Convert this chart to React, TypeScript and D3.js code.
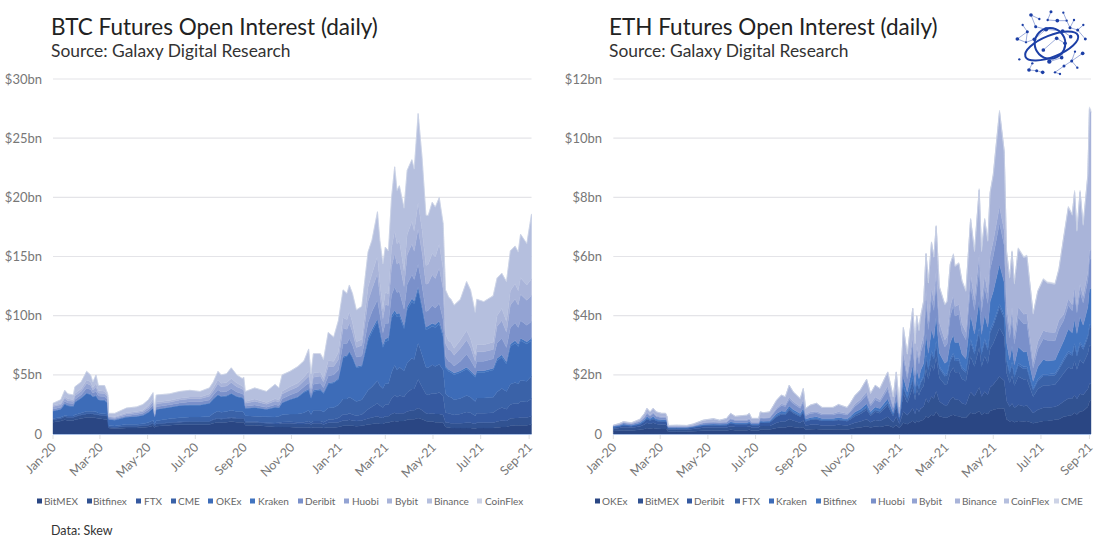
import React from "react";
import * as d3 from "d3";

const FONT = "Lato, 'Open Sans', sans-serif";
const palette = ["#2a4683", "#315291", "#3559a0", "#3a62a8", "#3d6cb8", "#4174c0", "#7a90ca", "#93a3d3", "#a9b4d9", "#b5bfde", "#cdd3e6"];
const monthTicks = ["2020-01", "2020-03", "2020-05", "2020-07", "2020-09", "2020-11", "2021-01", "2021-03", "2021-05", "2021-07", "2021-09"];

// BTC: days since 1 Jan 2020, read totals and per-exchange open interest ($bn)
const btcDays = [0,10,15,19,26,28,36,43,48,51,55,58,66,70,71,79,94,107,115,122,128,130,132,149,162,175,188,200,205,211,215,222,228,235,242,244,246,258,273,284,289,293,303,313,321,327,330,333,342,346,352,359,365,371,376,379,383,388,395,403,408,415,418,422,425,429,433,437,440,443,449,453,459,462,467,472,477,480,485,489,494,499,502,506,509,513,521,529,534,540,542,551,563,568,574,580,585,591,595,598,606,612];
const btcTotal = [2.6,2.9,3.7,3.4,3.3,4.0,4.4,5.3,5.0,4.4,5.0,4.1,4.1,3.4,1.75,1.75,2.2,2.3,2.5,2.9,3.5,2.0,3.3,3.4,3.6,3.7,3.6,3.9,4.4,5.3,5.0,5.1,5.6,5.0,4.7,4.8,3.6,3.9,3.6,4.2,3.9,5.0,5.3,5.7,6.2,7.2,5.1,6.8,6.8,6.3,8.6,8.2,9.6,12.2,11.9,12.6,11.9,10.5,10.8,15.4,16.4,18.8,16.4,14.4,15.8,15.5,20.0,22.6,20.6,21.0,19.1,22.3,23.2,22.4,27.1,23.4,18.5,18.5,19.6,19.2,20.0,17.8,12.2,11.6,11.4,10.9,11.4,12.9,12.2,10.3,11.4,11.2,11.7,13.2,13.6,12.9,15.5,15.9,15.4,16.9,16.1,18.6];
const btcBitMEX = [1.0,1.1,1.2,1.15,1.15,1.2,1.3,1.4,1.4,1.4,1.35,1.3,1.25,1.2,.5,.45,.5,.5,.55,.6,.7,.55,.65,.75,.8,.8,.8,.8,.9,1.0,.95,1.0,1.05,1.0,1.0,1.0,.75,.75,.65,.6,.6,.6,.6,.55,.55,.55,.5,.55,.55,.5,.55,.55,.6,.7,.7,.7,.7,.65,.7,.8,.85,.9,.85,.85,.95,.95,1.05,1.1,1.05,1.1,1.1,1.2,1.25,1.25,1.35,1.25,1.1,1.05,1.05,1.0,1.0,.95,.6,.55,.5,.5,.5,.5,.5,.45,.5,.5,.5,.55,.6,.6,.7,.75,.75,.75,.75,.8];
const btcBitfinex = [.2,.2,.25,.25,.25,.25,.3,.3,.3,.3,.3,.3,.3,.3,.1,.1,.15,.15,.15,.15,.2,.15,.2,.2,.2,.25,.25,.25,.3,.3,.3,.3,.3,.3,.3,.3,.25,.25,.25,.25,.25,.3,.3,.3,.3,.35,.3,.35,.35,.3,.4,.4,.4,.45,.45,.5,.45,.45,.45,.5,.55,.6,.55,.5,.55,.55,.65,.7,.65,.65,.65,.7,.75,.75,.85,.75,.65,.65,.7,.7,.7,.65,.4,.4,.4,.4,.4,.45,.45,.4,.45,.45,.45,.5,.55,.5,.6,.6,.6,.65,.65,.7];
const btcFTX = [.02,.02,.02,.02,.02,.02,.02,.02,.02,.02,.02,.02,.02,.02,.02,.02,.02,.02,.02,.02,.02,.02,.02,.03,.03,.03,.03,.03,.04,.04,.04,.05,.05,.05,.05,.05,.05,.06,.06,.08,.1,.12,.14,.15,.15,.2,.15,.2,.2,.2,.25,.3,.35,.5,.5,.55,.5,.45,.5,.8,.9,1.1,1.0,.9,1.0,1.0,1.3,1.5,1.4,1.5,1.4,1.6,1.8,1.8,2.4,2.0,1.6,1.6,1.7,1.7,1.8,1.6,.8,.8,.8,.7,.8,.9,.85,.7,.8,.8,.85,1.0,1.1,1.0,1.2,1.25,1.2,1.35,1.3,1.5];
const btcCME = [.1,.1,.1,.1,.1,.15,.15,.2,.2,.2,.2,.15,.15,.15,.1,.1,.15,.15,.15,.2,.25,.15,.25,.3,.35,.35,.35,.4,.5,.6,.55,.55,.6,.55,.55,.45,.5,.45,.5,.5,.55,.6,.65,.7,.8,.9,.7,.9,.9,.85,1.0,1.0,1.1,1.3,1.3,1.35,1.3,1.2,1.25,1.6,1.7,1.9,1.7,1.6,1.75,1.75,2.2,2.5,2.3,2.4,2.2,2.5,2.6,2.5,3.1,2.7,2.3,2.3,2.4,2.3,2.4,2.2,1.6,1.4,1.4,1.3,1.3,1.4,1.3,1.2,1.3,1.3,1.3,1.5,1.6,1.5,1.7,1.75,1.7,1.8,1.75,1.9];
const btcOKEx = [.6,.65,.95,.85,.8,1.05,1.25,1.5,1.4,1.2,1.35,1.1,1.1,.95,.5,.5,.6,.65,.7,.85,1.0,.55,.95,.95,1.0,1.0,1.0,1.1,1.2,1.35,1.3,1.3,1.4,1.25,1.15,1.15,.6,.7,.6,.8,.7,1.0,1.2,1.4,1.7,1.7,1.35,1.6,1.7,1.55,2.0,2.05,2.15,3.5,3.6,3.8,3.5,2.85,2.8,4.2,4.6,5.0,4.5,3.45,3.55,3.65,4.6,4.4,4.5,4.35,3.55,4.5,4.8,4.7,4.5,3.9,3.15,3.3,3.25,3.3,3.4,2.8,2.2,2.15,2.1,2.1,2.2,2.25,2.1,2.05,2.15,2.15,2.3,2.65,2.65,2.3,3.2,3.35,3.15,3.35,3.15,3.0];
const btcKraken = [.05,.05,.05,.05,.05,.05,.05,.05,.05,.05,.05,.05,.05,.05,.03,.03,.03,.03,.03,.03,.03,.03,.03,.05,.05,.05,.05,.05,.05,.05,.05,.05,.05,.05,.05,.05,.05,.05,.05,.05,.05,.05,.05,.05,.1,.1,.1,.1,.1,.1,.1,.1,.1,.1,.1,.1,.1,.1,.1,.25,.25,.25,.25,.25,.25,.25,.25,.25,.25,.25,.25,.25,.25,.25,.25,.25,.25,.25,.25,.25,.25,.25,.15,.15,.15,.15,.15,.15,.15,.15,.15,.15,.15,.2,.2,.2,.2,.2,.2,.2,.2,.2];
const btcDeribit = [.15,.15,.2,.2,.2,.2,.25,.4,.4,.3,.35,.3,.3,.25,.1,.1,.1,.15,.15,.2,.25,.1,.2,.2,.2,.25,.25,.25,.3,.4,.35,.35,.4,.35,.3,.3,.15,.2,.15,.2,.15,.3,.35,.4,.4,.5,.3,.5,.5,.4,.6,.6,.7,1.1,1.0,1.1,1.0,.8,.8,1.3,1.5,1.6,1.3,1.0,1.3,1.2,1.7,2.0,1.8,1.8,1.4,1.9,2.0,1.8,1.9,1.7,1.3,1.3,1.5,1.4,1.5,1.2,.8,.7,.7,.6,.8,1.1,.9,.6,.8,.8,.8,1.3,1.4,1.2,1.4,1.5,1.4,1.5,1.4,1.4];
const btcHuobi = [.2,.2,.25,.2,.2,.3,.3,.4,.35,.25,.35,.25,.25,.2,.1,.1,.15,.15,.15,.2,.3,.1,.25,.2,.25,.25,.25,.3,.35,.5,.45,.45,.5,.45,.4,.4,.25,.3,.25,.3,.3,.4,.4,.45,.5,.6,.35,.6,.6,.5,.8,.7,.9,1.3,1.2,1.3,1.1,.8,.9,1.8,1.9,2.2,1.6,1.2,1.6,1.5,2.4,2.8,2.4,2.5,1.9,2.5,2.6,2.4,3.0,2.8,2.3,2.3,2.6,2.5,3.0,2.6,1.1,1.0,1.0,.9,1.1,1.2,1.1,.6,.8,.8,.8,1.4,1.5,1.3,1.9,2.0,1.9,2.2,2.1,2.2];
const btcBybit = [.1,.1,.15,.15,.15,.2,.2,.3,.3,.2,.3,.2,.2,.15,.05,.05,.1,.1,.1,.15,.2,.05,.15,.15,.15,.15,.15,.2,.25,.35,.3,.3,.35,.3,.25,.25,.15,.2,.15,.2,.2,.25,.3,.3,.3,.4,.2,.35,.35,.3,.5,.45,.6,.9,.8,.9,.8,.5,.5,1.2,1.3,1.5,1.1,.8,1.0,1.0,1.6,1.9,1.7,1.8,1.3,1.7,1.9,1.7,2.2,1.9,1.6,1.6,1.8,1.8,2.0,1.7,.8,.7,.7,.6,.7,.8,.7,.5,.6,.6,.6,.9,1.0,.9,1.2,1.3,1.2,1.4,1.3,1.4];
const btcCoinFlex = [.01,.01,.01,.01,.01,.01,.01,.01,.01,.01,.01,.01,.01,.01,.01,.01,.01,.01,.01,.01,.01,.01,.01,.01,.01,.01,.01,.01,.01,.01,.01,.01,.01,.01,.01,.01,.01,.01,.01,.01,.01,.01,.01,.01,.03,.03,.03,.03,.03,.03,.03,.03,.03,.03,.03,.03,.03,.03,.03,.03,.03,.03,.03,.03,.03,.03,.03,.03,.03,.03,.03,.03,.03,.03,.03,.03,.03,.03,.03,.03,.03,.03,.03,.03,.03,.03,.03,.03,.03,.03,.03,.03,.03,.03,.03,.03,.03,.03,.03,.03,.03,.03];

// ETH: same layout
const ethDays = [0,8,13,23,34,40,43,47,51,55,62,67,69,70,81,94,102,115,128,136,145,150,156,171,174,177,186,188,192,200,209,215,220,225,230,239,243,246,252,260,267,281,288,299,303,309,316,324,329,335,341,351,358,362,366,371,376,383,386,388,391,393,397,400,403,407,410,413,417,424,427,431,435,437,442,446,451,457,462,468,471,475,479,482,486,494,500,503,507,510,513,518,525,529,537,543,550,555,565,570,576,582,587,590,593,597,601,607,609,611];
const ethTotal = [.30,.36,.42,.38,.5,.7,.87,.75,.87,.75,.7,.7,.58,.29,.3,.29,.34,.47,.52,.47,.53,.7,.6,.64,.7,.53,.53,.75,.72,.75,1.15,1.32,1.26,1.65,1.43,1.2,1.54,.87,.98,1.04,.9,.9,1.0,.9,1.04,1.3,1.49,1.85,1.37,1.65,1.54,2.1,1.26,2.1,.92,3.6,2.7,4.25,3.06,4.0,3.5,3.96,4.5,6.1,5.1,6.5,6.0,7.06,5.0,4.4,4.5,5.77,6.1,5.7,5.8,5.2,4.86,7.3,6.2,8.3,6.2,7.3,6.55,8.2,8.8,10.95,9.6,6.2,5.3,6.2,5.1,6.3,6.0,6.05,4.08,4.86,5.26,5.15,5.1,5.6,6.67,7.7,7.45,8.24,6.9,8.24,7.1,8.8,11.06,10.95];
const ethOKEx = [.1,.11,.13,.12,.14,.17,.2,.18,.2,.18,.17,.17,.15,.08,.08,.08,.09,.11,.12,.12,.12,.14,.13,.13,.14,.12,.12,.15,.15,.15,.2,.22,.22,.26,.24,.2,.24,.14,.16,.17,.15,.15,.16,.15,.17,.2,.22,.26,.22,.25,.24,.3,.22,.3,.2,.38,.33,.45,.36,.45,.4,.45,.48,.6,.55,.65,.62,.75,.6,.55,.55,.62,.65,.62,.6,.56,.55,.72,.68,.78,.65,.72,.68,.78,.82,.87,.85,.5,.42,.45,.4,.44,.42,.44,.36,.4,.44,.44,.48,.5,.58,.62,.64,.72,.66,.76,.78,.92,1.1,1.15];
const ethBitMEX = [.08,.09,.1,.09,.11,.15,.18,.16,.18,.16,.14,.14,.12,.07,.07,.07,.08,.1,.1,.1,.1,.12,.11,.11,.12,.1,.1,.12,.12,.12,.18,.2,.2,.25,.22,.18,.22,.14,.15,.15,.14,.14,.15,.14,.15,.18,.2,.24,.18,.22,.2,.28,.18,.28,.14,.38,.3,.42,.32,.42,.35,.4,.45,.6,.5,.62,.58,.7,.5,.42,.42,.55,.6,.55,.55,.48,.45,.7,.6,.8,.62,.72,.65,.8,.85,1.07,.95,.62,.5,.58,.48,.55,.52,.52,.35,.42,.45,.45,.44,.48,.52,.58,.56,.6,.52,.6,.55,.6,.6,.55];
const ethDeribit = [.04,.05,.06,.05,.07,.1,.13,.11,.13,.1,.1,.1,.08,.04,.04,.04,.05,.07,.08,.07,.08,.1,.09,.09,.1,.08,.08,.12,.11,.12,.2,.24,.22,.3,.25,.2,.28,.14,.16,.17,.15,.15,.16,.14,.17,.22,.26,.32,.22,.28,.26,.38,.2,.36,.14,.6,.42,.7,.46,.64,.55,.62,.7,1.0,.8,1.05,.95,1.15,.8,.7,.72,.92,1.0,.92,.95,.82,.78,1.2,1.0,1.35,1.0,1.2,1.05,1.3,1.4,1.65,1.5,.95,.8,.95,.75,.95,.9,.9,.55,.7,.75,.75,.75,.85,.95,1.05,1.0,1.15,1.0,1.15,1.05,1.2,1.3,1.3];
const ethFTX = [.01,.01,.01,.01,.01,.02,.02,.02,.02,.02,.02,.02,.01,.01,.01,.01,.01,.01,.01,.01,.01,.01,.01,.01,.01,.01,.01,.01,.01,.01,.03,.03,.03,.04,.03,.03,.03,.02,.02,.02,.02,.02,.02,.02,.03,.05,.06,.07,.05,.06,.06,.08,.05,.08,.04,.22,.15,.28,.2,.26,.22,.25,.28,.4,.32,.42,.38,.46,.32,.28,.3,.38,.42,.38,.38,.33,.3,.5,.42,.55,.42,.5,.45,.55,.6,.7,.62,.4,.32,.38,.3,.38,.36,.36,.22,.28,.32,.32,.32,.36,.42,.48,.45,.52,.45,.52,.48,.55,.6,.62];
const ethKraken = [.01,.01,.01,.01,.01,.01,.01,.01,.01,.01,.01,.01,.01,.01,.01,.01,.01,.01,.01,.01,.01,.01,.01,.01,.01,.01,.01,.01,.01,.01,.02,.02,.02,.02,.02,.02,.02,.02,.02,.02,.02,.02,.02,.02,.02,.02,.02,.03,.02,.02,.02,.03,.02,.03,.01,.05,.04,.06,.04,.05,.05,.05,.06,.08,.06,.08,.08,.09,.07,.06,.06,.07,.08,.07,.07,.06,.06,.09,.08,.1,.08,.09,.08,.1,.1,.1,.1,.07,.06,.07,.06,.07,.07,.07,.05,.05,.06,.06,.06,.06,.07,.07,.07,.08,.07,.08,.07,.08,.1,.1];
const ethBitfinex = [.02,.02,.03,.02,.03,.04,.05,.04,.05,.04,.04,.04,.03,.01,.01,.01,.01,.02,.02,.02,.02,.03,.03,.03,.03,.02,.02,.03,.03,.03,.06,.07,.07,.08,.07,.06,.08,.04,.05,.05,.04,.04,.05,.04,.05,.07,.08,.1,.06,.08,.08,.12,.05,.12,.04,.3,.18,.42,.22,.4,.3,.38,.42,.72,.5,.72,.62,.85,.45,.38,.4,.55,.6,.55,.55,.45,.4,.8,.6,.95,.6,.8,.7,.95,1.05,1.35,1.1,.55,.4,.55,.35,.55,.5,.5,.25,.42,.5,.45,.45,.55,.6,.75,.7,.8,.7,.85,.75,.95,1.2,1.2];
const ethHuobi = [.02,.03,.04,.04,.05,.07,.1,.08,.1,.08,.07,.07,.05,.02,.02,.02,.02,.05,.06,.05,.06,.1,.08,.08,.09,.05,.05,.1,.1,.1,.15,.18,.17,.22,.2,.18,.22,.12,.13,.14,.12,.12,.14,.13,.15,.2,.24,.3,.2,.25,.22,.32,.15,.3,.1,.65,.45,.7,.4,.6,.5,.6,.7,1.1,.8,1.05,.95,1.15,.75,.55,.6,.9,1.0,.9,.95,.75,.65,1.0,.8,1.1,.75,.95,.8,1.1,1.2,1.4,1.25,.95,.75,.95,.7,1.0,.95,.95,.45,.6,.7,.7,.65,.75,.7,.8,.75,.85,.7,.85,.75,.9,1.0,1.0];
const ethBybit = [.01,.01,.01,.01,.02,.03,.04,.03,.04,.03,.03,.03,.02,.01,.01,.01,.01,.01,.01,.01,.01,.02,.02,.02,.02,.01,.01,.02,.02,.02,.05,.06,.06,.08,.07,.06,.08,.04,.05,.05,.05,.05,.05,.05,.05,.07,.09,.11,.07,.09,.08,.12,.06,.12,.04,.2,.15,.25,.15,.2,.18,.2,.25,.35,.28,.35,.32,.4,.28,.24,.25,.32,.35,.32,.33,.28,.25,.4,.35,.45,.35,.4,.35,.45,.5,.55,.5,.35,.28,.35,.28,.35,.33,.33,.2,.25,.28,.28,.28,.3,.2,.22,.2,.25,.2,.25,.22,.28,.3,.3];
const ethCoinFlex = [.01,.01,.01,.01,.01,.01,.01,.01,.01,.01,.01,.01,.01,.01,.01,.01,.01,.01,.01,.01,.01,.01,.01,.01,.01,.01,.01,.01,.01,.01,.01,.01,.01,.01,.01,.01,.01,.01,.01,.01,.01,.01,.01,.01,.01,.01,.01,.01,.01,.01,.01,.01,.01,.01,.01,.01,.01,.01,.01,.01,.01,.01,.01,.01,.01,.02,.02,.02,.02,.02,.02,.02,.02,.02,.02,.02,.02,.02,.02,.02,.02,.02,.02,.02,.02,.02,.02,.02,.02,.02,.02,.02,.02,.02,.02,.02,.02,.02,.02,.02,.02,.02,.02,.02,.02,.02,.02,.02,.02,.02];
const ethCME = [0,0,0,0,0,0,0,0,0,0,0,0,0,0,0,0,0,0,0,0,0,0,0,0,0,0,0,0,0,0,0,0,0,0,0,0,0,0,0,0,0,0,0,0,0,0,0,0,0,0,0,0,0,0,0,0,0,0,0,0,0,0,0,0,0,.02,.02,.03,.02,.02,.02,.03,.03,.03,.03,.03,.03,.04,.03,.04,.03,.04,.03,.04,.04,.05,.05,.03,.03,.03,.03,.03,.03,.03,.02,.03,.03,.03,.03,.03,.04,.04,.04,.05,.04,.05,.04,.05,.06,.06];

const btcLegend: [string, number, number][] = [["BitMEX", 37, 44], ["Bitfinex", 87, 93], ["FTX", 136, 144], ["CME", 171, 178], ["OKEx", 208, 216], ["Kraken", 250, 258], ["Deribit", 298, 305], ["Huobi", 344, 352], ["Bybit", 387, 395], ["Binance", 427, 434], ["CoinFlex", 477, 485]];
const ethLegend: [string, number, number][] = [["OKEx", 595, 602], ["BitMEX", 638, 645], ["Deribit", 687, 694], ["FTX", 735, 742], ["Kraken", 769, 776], ["Bitfinex", 816, 823], ["Huobi", 871, 878], ["Bybit", 912, 919], ["Binance", 955, 962], ["CoinFlex", 1004, 1011], ["CME", 1054, 1061]];

// Binance is what is left between the read stack top and the other exchanges
const residual = (total: number[], parts: number[][]) =>
  total.map((t, i) => Math.max(0, t - d3.sum(parts, (p) => p[i])));

const btcBelow = [btcBitMEX, btcBitfinex, btcFTX, btcCME, btcOKEx, btcKraken, btcDeribit, btcHuobi, btcBybit];
const btcBinance = residual(btcTotal, [...btcBelow, btcCoinFlex]);
const btcSeries = [...btcBelow, btcBinance, btcCoinFlex];

const ethBelow = [ethOKEx, ethBitMEX, ethDeribit, ethFTX, ethKraken, ethBitfinex, ethHuobi, ethBybit];
const ethBinance = residual(ethTotal, [...ethBelow, ethCoinFlex, ethCME]);
const ethSeries = [...ethBelow, ethBinance, ethCoinFlex, ethCME];

const origin = new Date(2020, 0, 1);
const dayToDate = (d: number) => d3.timeDay.offset(origin, d);

function Panel(props: {
  title: string; titleX: number; x0: number; x1: number; labelX: number;
  days: number[]; series: number[][]; yMax: number; yStep: number; legend: [string, number, number][];
}) {
  const { title, titleX, x0, x1, labelX, days, series, yMax, yStep, legend } = props;
  const x = d3.scaleTime().domain([origin, dayToDate(days[days.length - 1])]).range([x0, x1]);
  const y = d3.scaleLinear().domain([0, yMax]).range([434, 79]);
  const rows = days.map((_, i) => series.map((s) => s[i]));
  const stack = d3.stack<number[], number>().keys(d3.range(series.length)).value((r, k) => r[k]);
  const area = d3.area<d3.SeriesPoint<number[]>>()
    .x((_, i) => x(dayToDate(days[i])))
    .y0((p) => y(p[0]))
    .y1((p) => y(p[1]));
  const layers = stack(rows);
  const yTicks = d3.range(0, yMax + yStep / 2, yStep);
  const fmt = d3.timeFormat("%b-%y");
  return (
    <g fontFamily={FONT}>
      <text x={titleX} y={35} fontSize={22.5} fill="#222">{title}</text>
      <text x={titleX} y={57} fontSize={17.4} fill="#333">Source: Galaxy Digital Research</text>
      {yTicks.map((t) => (
        <g key={t}>
          {t > 0 && <line x1={x0} x2={x1} y1={y(t)} y2={y(t)} stroke="#e4e4e8" strokeWidth={1.2} />}
          <text x={labelX} y={y(t) + 4.5} textAnchor="end" fontSize={13} fill="#777">{t === 0 ? "0" : `$${t}bn`}</text>
        </g>
      ))}
      {layers.map((l, i) => (
        <path key={i} d={area(l) || ""} fill={palette[i]} stroke={palette[i]} strokeWidth={0.4} />
      ))}
      <line x1={x0} x2={x1} y1={434.5} y2={434.5} stroke="#a9c0e6" strokeWidth={1} />
      {monthTicks.map((m) => {
        const dt = d3.timeParse("%Y-%m")(m) as Date;
        const px = x(dt);
        return (
          <g key={m}>
            <line x1={px} x2={px} y1={435} y2={439} stroke="#e0e0e0" />
            <text transform={`translate(${px + 4},${448}) rotate(-45)`} textAnchor="end" fontSize={12.5} fill="#777">{fmt(dt)}</text>
          </g>
        );
      })}
      {legend.map(([name, sx, tx], i) => (
        <g key={name}>
          <rect x={sx} y={498.5} width={5} height={5} fill={palette[i]} />
          <text x={tx} y={505} fontSize={10} fill="#666">{name}</text>
        </g>
      ))}
    </g>
  );
}

const logoNodes: [number, number, number][] = [[93,45,4],[118,57,2],[107,80,3],[153,35,3],[143,60,2],[172,62,4],[190,38,2],[200,62,2],[222,60,2],[210,83,3],[250,75,2],[233,90,3],[256,117,3],[68,75,2],[82,95,3],[52,117,4],[78,127,2],[103,118,4],[138,88,5],[188,93,4],[212,110,4],[225,155,2],[248,160,4],[215,183,3],[232,203,2],[192,198,3],[165,217,2],[180,222,2],[128,217,4],[110,212,3],[87,210,4],[97,190,2],[58,178,2],[148,185,5],[185,173,4],[195,130,4],[170,115,4],[130,150,4]];
const logoLinks: [number, number][] = [[0,1],[0,2],[3,4],[4,5],[5,7],[6,7],[7,9],[8,9],[9,11],[10,11],[11,12],[13,14],[14,15],[14,16],[15,16],[16,17],[2,18],[18,19],[19,20],[21,23],[22,23],[23,24],[23,25],[25,26],[26,27],[28,29],[29,30],[30,31],[33,34],[34,35],[35,36],[36,37],[17,18]];

function Logo() {
  return (
    <g transform="translate(1000,0) scale(0.3333)" stroke="#1c3fa6" fill="#1c3fa6">
      {logoLinks.map(([a, b], i) => (
        <line key={i} x1={logoNodes[a][0]} y1={logoNodes[a][1]} x2={logoNodes[b][0]} y2={logoNodes[b][1]} strokeWidth={2} stroke="#6d83c8" />
      ))}
      <ellipse cx={155} cy={138} rx={85} ry={32} transform="rotate(-22 155 138)" fill="none" strokeWidth={6} />
      <ellipse cx={150} cy={130} rx={46} ry={46} fill="none" strokeWidth={6} />
      {logoNodes.map(([cx, cy, r], i) => (
        <circle key={i} cx={cx} cy={cy} r={r + 1.5} stroke="none" />
      ))}
    </g>
  );
}

export default function App() {
  return (
    <svg width={1100} height={549} viewBox="0 0 1100 549" style={{ position: "absolute", left: 0, top: 0, background: "#fff" }}>
      <Panel title="BTC Futures Open Interest (daily)" titleX={51} x0={53} x1={531.5} labelX={42} days={btcDays} series={btcSeries} yMax={30} yStep={5} legend={btcLegend} />
      <Panel title="ETH Futures Open Interest (daily)" titleX={609} x0={613.3} x1={1091} labelX={602} days={ethDays} series={ethSeries} yMax={12} yStep={2} legend={ethLegend} />
      <text x={51} y={535} fontFamily={FONT} fontSize={12.5} fill="#333">Data: Skew</text>
      <Logo />
    </svg>
  );
}
